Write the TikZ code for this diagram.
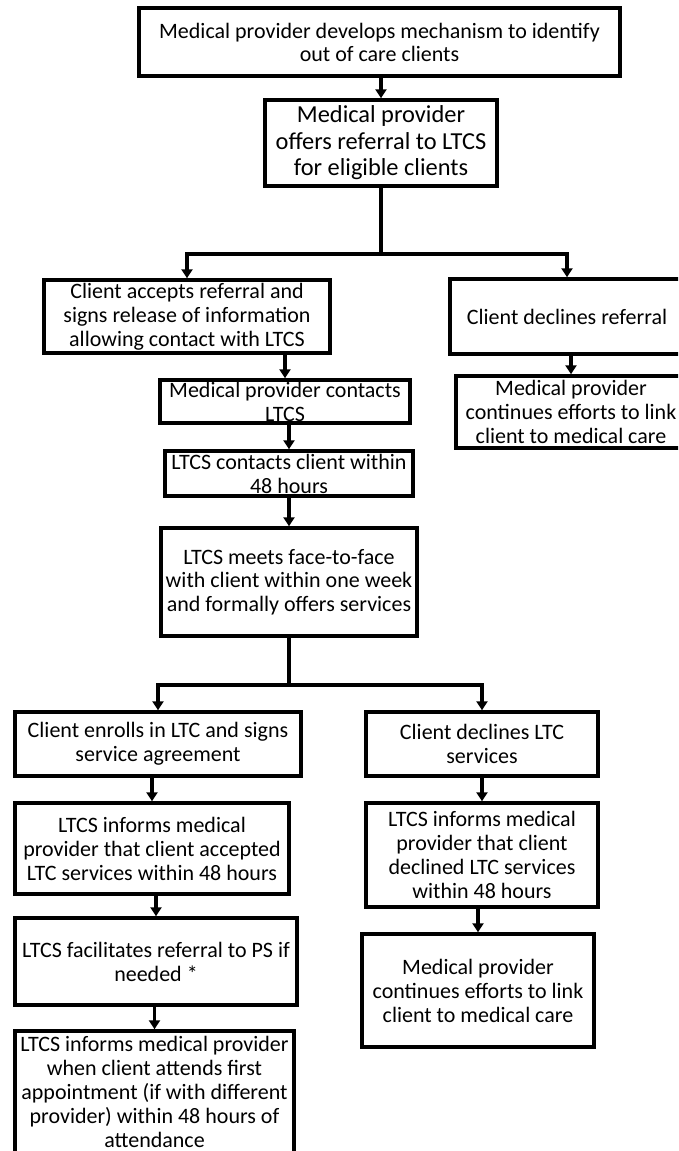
\documentclass[tikz,border=0pt]{standalone}
\usepackage{fontspec}
\setmainfont{Carlito}
\usetikzlibrary{arrows.meta}

\begin{document}
\begin{tikzpicture}[x=1pt,y=-1pt,
  stepbox/.style={draw,line width=3.5pt,rectangle,inner sep=0pt,align=center,
                  font=\fontsize{22}{24}\selectfont},
  link/.style={line width=3.5pt},
  flow/.style={link,-{Triangle[length=9pt,width=11pt]}}
]
\useasboundingbox (0,0) rectangle (678,1151);
\clip (0,0) rectangle (678,1151);

% Identification and referral
\node[stepbox,minimum width=481pt,minimum height=68pt,font=\fontsize{22}{23}\selectfont]
  (identify) at (379.5,42) {Medical provider develops mechanism to identify\\out of care clients};
\node[stepbox,minimum width=232pt,minimum height=86pt,font=\fontsize{24.4}{26.5}\selectfont]
  (offer) at (381,143) {Medical provider\\offers referral to LTCS\\for eligible clients};

% Client answer to the referral
\node[stepbox,minimum width=286pt,minimum height=73pt] (accept) at (187,316.5)
  {Client accepts referral and\\signs release of information\\allowing contact with LTCS};
\node[stepbox,minimum width=234pt,minimum height=75pt] (decline) at (567,316.5)
  {Client declines referral};
\node[stepbox,minimum width=230pt,minimum height=72pt] (effortA) at (571,412)
  {Medical provider\\continues efforts to link\\client to medical care};

% Contact chain
\node[stepbox,minimum width=250pt,minimum height=43pt] (callLTCS) at (285,401.5)
  {Medical provider contacts\\LTCS};
\node[stepbox,minimum width=248pt,minimum height=45pt] (callClient) at (289,473.5)
  {LTCS contacts client within\\48 hours};
\node[stepbox,minimum width=256pt,minimum height=108pt,font=\fontsize{22}{23.5}\selectfont]
  (meet) at (289,582)
  {LTCS meets face-to-face\\with client within one week\\and formally offers services};

% Client answer to the services
\node[stepbox,minimum width=286pt,minimum height=64pt] (enroll) at (158,744)
  {Client enrolls in LTC and signs\\service agreement};
\node[stepbox,minimum width=232pt,minimum height=64pt] (declineLTC) at (482,744)
  {Client declines LTC\\services};
\node[stepbox,minimum width=274pt,minimum height=91pt] (tellAccept) at (152,848.5)
  {LTCS informs medical\\provider that client accepted\\LTC services within 48 hours};
\node[stepbox,minimum width=232pt,minimum height=104pt] (tellDecline) at (482,855)
  {LTCS informs medical\\provider that client\\declined LTC services\\within 48 hours};
\node[stepbox,minimum width=282pt,minimum height=87pt] (refPS) at (156,961.5)
  {LTCS facilitates referral to PS if\\needed *};
\node[stepbox,minimum width=232pt,minimum height=113pt] (effortB) at (478,990.5)
  {Medical provider\\continues efforts to link\\client to medical care};
\node[stepbox,minimum width=279pt,minimum height=122pt] (tellAttend) at (154.5,1092)
  {LTCS informs medical provider\\when client attends first\\appointment (if with different\\provider) within 48 hours of\\attendance};

% Connectors
\coordinate (splitA) at (381,254);
\coordinate (splitB) at (289,685);
\draw[flow] (offer.north |- identify.south) -- (offer.north);
\draw[link] (offer.south) -- (splitA);
\draw[flow] (splitA) -| (accept.north);
\draw[flow] (splitA) -| (decline.north);
\draw[flow] (callLTCS.north |- accept.south) -- (callLTCS.north);
\draw[flow] (effortA.north |- decline.south) -- (effortA.north);
\draw[flow] (callClient.north |- callLTCS.south) -- (callClient.north);
\draw[flow] (callClient.south) -- (meet.north);
\draw[link] (meet.south) -- (splitB);
\draw[flow] (splitB) -| (enroll.north);
\draw[flow] (splitB) -| (declineLTC.north);
\draw[flow] (tellAccept.north |- enroll.south) -- (tellAccept.north);
\draw[flow] (refPS.north |- tellAccept.south) -- (refPS.north);
\draw[flow] (tellAttend.north |- refPS.south) -- (tellAttend.north);
\draw[flow] (tellDecline.north |- declineLTC.south) -- (tellDecline.north);
\draw[flow] (effortB.north |- tellDecline.south) -- (effortB.north);

\end{tikzpicture}
\end{document}
